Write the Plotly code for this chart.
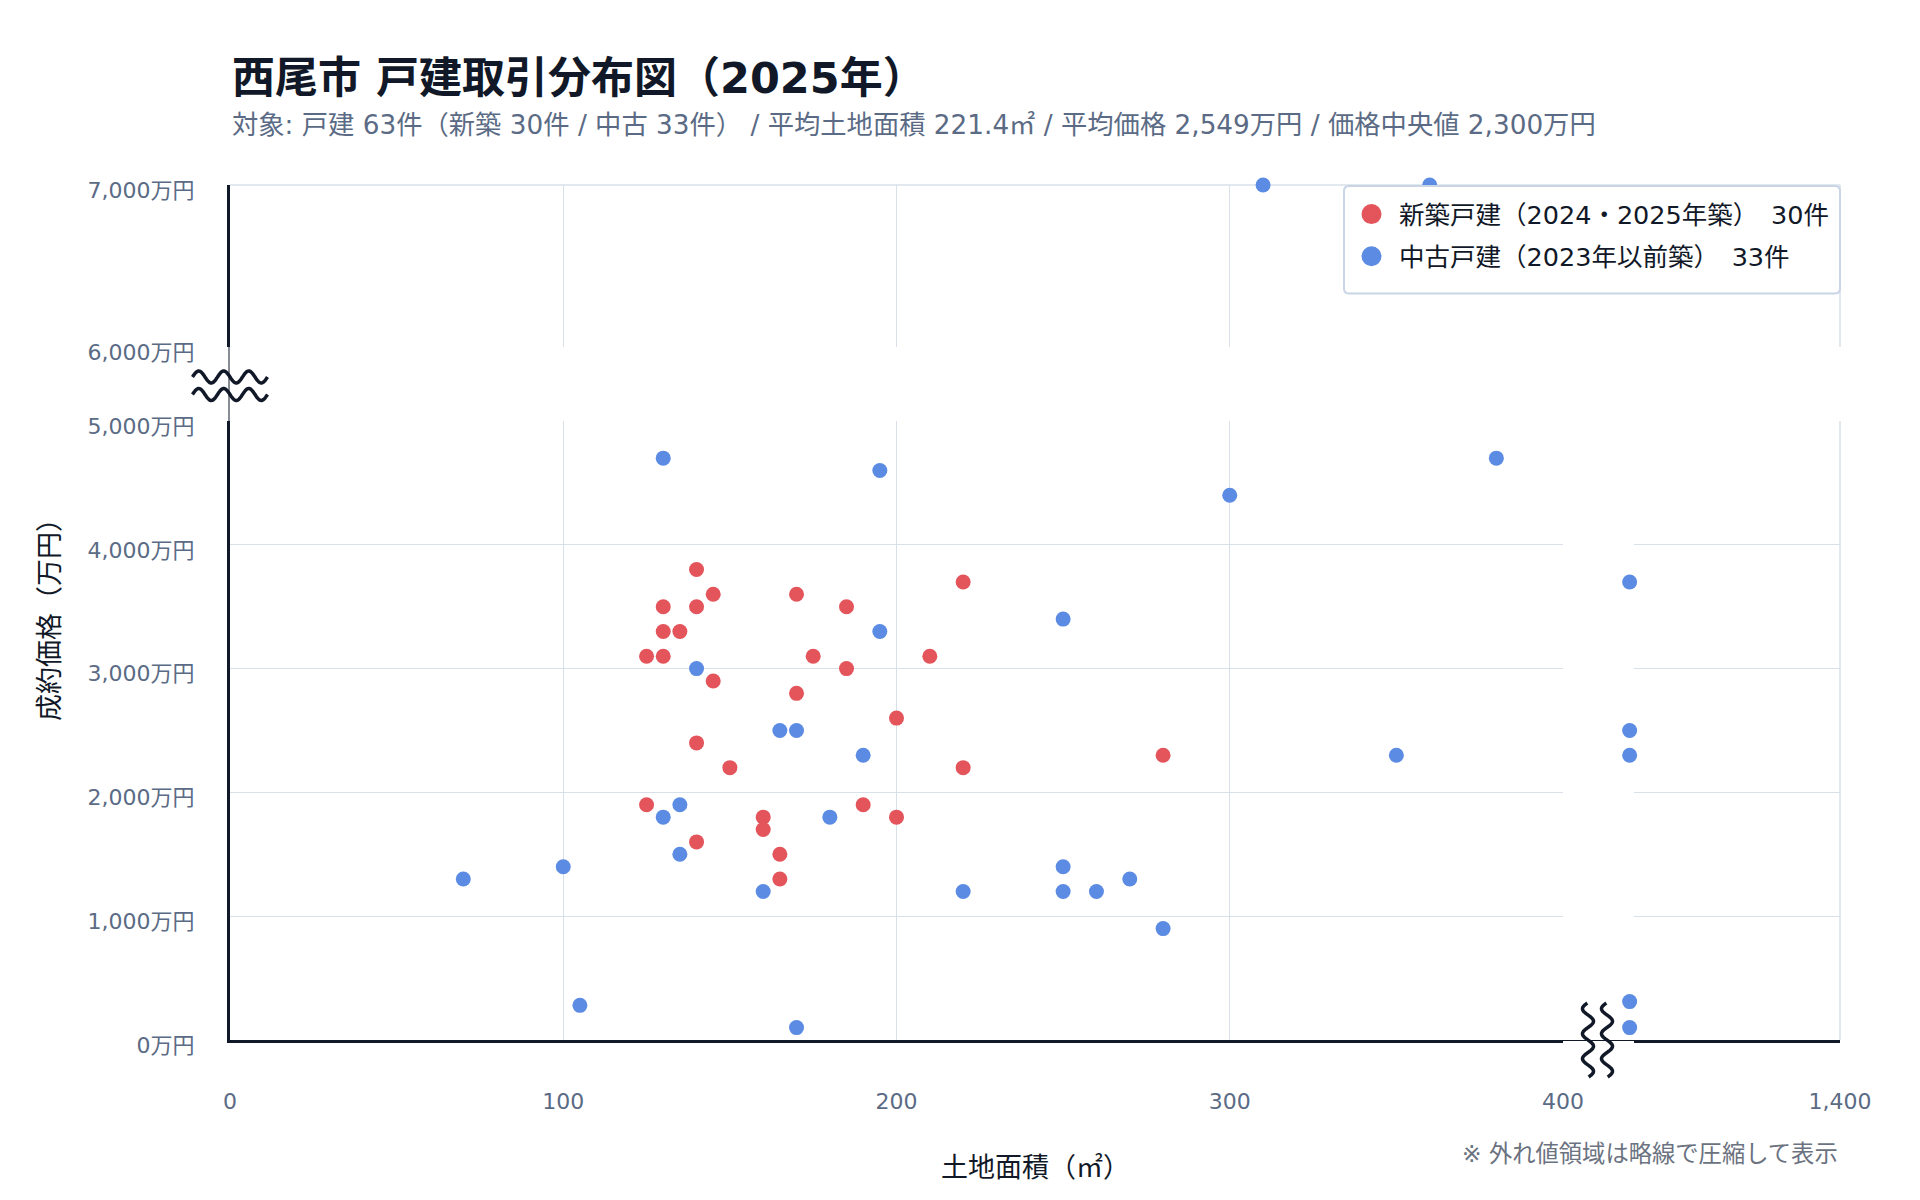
import numpy as np
import plotly.graph_objects as go

# ---------------- data ----------------
new_x = [140, 145, 130, 140, 170, 185, 220, 130, 135, 125, 130, 175, 210, 185, 145,
         170, 200, 140, 150, 220, 125, 190, 160, 200, 160, 140, 165, 165, 280]
new_y = [3800, 3600, 3500, 3500, 3600, 3500, 3700, 3300, 3300, 3100, 3100, 3100, 3100, 3000, 2900,
         2800, 2600, 2400, 2200, 2200, 1900, 1900, 1800, 1800, 1700, 1600, 1500, 1300, 2300]

used_x = [310, 360, 130, 195, 380, 300, 250, 195, 140, 165, 170, 190, 350, 135, 130, 180, 135,
          70, 100, 160, 220, 250, 250, 260, 270, 280, 105, 170, 420, 420, 420, 420, 420]
used_y = [7000, 7000, 4700, 4600, 4700, 4400, 3400, 3300, 3000, 2500, 2500, 2300, 2300, 1900, 1800,
          1800, 1500, 1300, 1400, 1200, 1200, 1400, 1200, 1200, 1300, 900, 280, 100, 3700, 2500,
          2300, 310, 100]

series_names = ["新築戸建（2024・2025年築）\u300030件", "中古戸建（2023年以前築）\u300033件"]
series_colors = ["#E3545B", "#5B8BE2"]

x_ticks_main = [0, 100, 200, 300, 400]
x_ticks_far = [1400]
y_ticks_low = [0, 1000, 2000, 3000, 4000, 5000]
y_ticks_high = [6000, 7000]

title_text = "西尾市 戸建取引分布図（2025年）"
subtitle_text = ("対象: 戸建 63件（新築 30件 / 中古 33件） / 平均土地面積 221.4㎡ / "
                 "平均価格 2,549万円 / 価格中央値 2,300万円")
x_title = "土地面積（㎡）"
y_title = "成約価格（万円）"
note_text = "※ 外れ値領域は略線で圧縮して表示"

# ---------------- layout constants ----------------
W, H = 1920, 1200
FONT = "DejaVu Sans, Noto Sans CJK JP, sans-serif"
DARK = "#111827"
TICK = "#5B6B85"
GRID = "#D8E0EA"
LEG_BORDER = "#C9D5E5"
Y_SPLIT = 5500
X_SPLIT = 400


def px(x):
    return x / W


def py(y):
    return 1 - y / H


L0, L1, R0, R1 = 230, 1563, 1634, 1840
XL = [px(L0), px(L1)]
XR = [px(R0), px(R1)]
YB = [py(1040), py(421)]
YT = [py(347), py(185)]
X_MAIN = [0, 400]
# outlier strip continues the main scale just beyond the break
OUT_END = 1700
X_OUT = [X_MAIN[1], X_MAIN[1] + (OUT_END - L1) * (X_MAIN[1] - X_MAIN[0]) / (L1 - L0)]

fig = go.Figure()

# legend entries
for name, color in zip(series_names, series_colors):
    fig.add_trace(go.Scatter(x=[None], y=[None], mode="markers", name=name, legendgroup=name,
                             marker=dict(size=16, color=color, line=dict(width=4, color=color)),
                             xaxis="x", yaxis="y", hoverinfo="skip"))

for xs, ys, name, color in [(new_x, new_y, series_names[0], series_colors[0]),
                            (used_x, used_y, series_names[1], series_colors[1])]:
    xs = np.array(xs)
    ys = np.array(ys)
    low = (ys < Y_SPLIT) & (xs <= X_SPLIT)
    high = ys >= Y_SPLIT
    far = (xs > X_SPLIT) & (ys < Y_SPLIT)
    mk = dict(size=15, color=color)
    fig.add_trace(go.Scatter(x=xs[low], y=ys[low], mode="markers", name=name,
                             legendgroup=name, showlegend=False, cliponaxis=False, marker=mk,
                             xaxis="x", yaxis="y"))
    if high.any():
        fig.add_trace(go.Scatter(x=xs[high], y=ys[high], mode="markers", name=name,
                                 legendgroup=name, showlegend=False, cliponaxis=False,
                                 marker=mk, xaxis="x3", yaxis="y3"))
    if far.any():
        fig.add_trace(go.Scatter(x=xs[far], y=ys[far], mode="markers", name=name,
                                 legendgroup=name, showlegend=False, cliponaxis=False,
                                 marker=mk, xaxis="x5", yaxis="y5"))

# empty traces so the right-hand panels are drawn
fig.add_trace(go.Scatter(x=[], y=[], xaxis="x2", yaxis="y2", showlegend=False))
fig.add_trace(go.Scatter(x=[], y=[], xaxis="x4", yaxis="y4", showlegend=False))

tickfont = dict(family=FONT, size=22, color=TICK)
common = dict(showgrid=True, gridcolor=GRID, gridwidth=1, zeroline=False, ticks="",
              tickfont=tickfont, automargin=False, fixedrange=True)


def yen(vals):
    return [f"{v:,}万円" for v in vals]


fig.update_layout(
    width=W, height=H, template="none",
    margin=dict(l=0, r=0, t=0, b=0),
    paper_bgcolor="white", plot_bgcolor="rgba(0,0,0,0)",
    font=dict(family=FONT, color=DARK),
    showlegend=True,
    xaxis=dict(domain=XL, anchor="y", range=X_MAIN, tickvals=x_ticks_main,
               showline=True, linewidth=3, linecolor=DARK, ticklabelstandoff=40, **common),
    xaxis2=dict(domain=XR, anchor="y2", range=[1000, 1400], tickvals=x_ticks_far,
                ticktext=[f"{v:,}" for v in x_ticks_far],
                showline=True, linewidth=3, linecolor=DARK, ticklabelstandoff=40, **common),
    xaxis3=dict(domain=XL, anchor="y3", range=X_MAIN, tickvals=x_ticks_main,
                showticklabels=False, showline=False, **common),
    xaxis4=dict(domain=XR, anchor="y4", range=[1000, 1400], tickvals=x_ticks_far,
                showticklabels=False, showline=False, **common),
    xaxis5=dict(domain=[px(L1), px(OUT_END)], anchor="y5", range=X_OUT, visible=False,
                fixedrange=True),
    yaxis=dict(domain=YB, anchor="x", range=[0, 5000], tickvals=y_ticks_low,
               ticktext=yen(y_ticks_low), showline=True, linewidth=3, linecolor=DARK,
               ticklabelstandoff=28, ticklabelshift=5, **common),
    yaxis2=dict(domain=YB, anchor="x2", range=[0, 5000], tickvals=y_ticks_low,
                showticklabels=False, showline=False, **common),
    yaxis3=dict(domain=YT, anchor="x3", range=[6000, 7000], tickvals=y_ticks_high,
                ticktext=yen(y_ticks_high), showline=True, linewidth=3, linecolor=DARK,
                ticklabelstandoff=28, ticklabelshift=5, **common),
    yaxis4=dict(domain=YT, anchor="x4", range=[6000, 7000], tickvals=y_ticks_high,
                showticklabels=False, showline=False, **common),
    yaxis5=dict(domain=YB, anchor="x5", range=[0, 5000], visible=False, fixedrange=True),
    legend=dict(x=px(1344), y=py(191), xanchor="left", yanchor="top",
                bgcolor="rgba(0,0,0,0)", borderwidth=0, itemwidth=45, tracegroupgap=6,
                font=dict(family=FONT, size=25.5, color=DARK)),
)

annotations = [
    dict(text=f"<b>{title_text}</b>", x=px(230), y=py(78), xanchor="left", yanchor="middle",
         font=dict(family=FONT, size=43, color=DARK)),
    dict(text=subtitle_text, x=px(230), y=py(125), xanchor="left", yanchor="middle",
         font=dict(family=FONT, size=26.3, color=TICK)),
    dict(text=x_title, x=px(1035), y=py(1167), xanchor="center", yanchor="middle",
         font=dict(family=FONT, size=27, color=DARK)),
    dict(text=y_title, x=px(49), y=py(613), xanchor="center", yanchor="middle",
         textangle=-90, font=dict(family=FONT, size=27, color=DARK)),
    dict(text=note_text, x=px(1840), y=py(1153), xanchor="right", yanchor="middle",
         font=dict(family=FONT, size=23.3, color="#6B7280")),
]
for a in annotations:
    a.update(xref="paper", yref="paper", showarrow=False)
fig.update_layout(annotations=annotations)


# ---------------- decorations (break marks, legend frame) ----------------
def wave_path(c_along, c_across, length, amp, period, horizontal):
    t = np.linspace(-length / 2, length / 2, 120)
    off = amp * np.sin(2 * np.pi * t / period)
    pts = []
    for ti, oi in zip(t, off):
        if horizontal:
            pts.append((px(c_along + ti), py(c_across + oi)))
        else:
            pts.append((px(c_across + oi), py(c_along + ti)))
    return "M " + " L ".join(f"{a:.5f},{b:.5f}" for a, b in pts)


def rounded_rect(x0, y0, x1, y1, r):
    P = lambda x, y: f"{px(x):.5f},{py(y):.5f}"
    return (f"M {P(x0 + r, y0)} L {P(x1 - r, y0)} Q {P(x1, y0)} {P(x1, y0 + r)} "
            f"L {P(x1, y1 - r)} Q {P(x1, y1)} {P(x1 - r, y1)} "
            f"L {P(x0 + r, y1)} Q {P(x0, y1)} {P(x0, y1 - r)} "
            f"L {P(x0, y0 + r)} Q {P(x0, y0)} {P(x0 + r, y0)} Z")


shapes = [
    # right-edge and top-edge grid lines
    dict(type="line", x0=px(R1), x1=px(R1), y0=py(1040), y1=py(421),
         line=dict(color=GRID, width=1.5), layer="below"),
    dict(type="line", x0=px(R1), x1=px(R1), y0=py(347), y1=py(185),
         line=dict(color=GRID, width=1.5), layer="below"),
    dict(type="line", x0=px(L0), x1=px(R1), y0=py(185), y1=py(185),
         line=dict(color=GRID, width=1.5), layer="below"),
    # thin axis lines through the gaps
    dict(type="line", x0=px(229), x1=px(229), y0=py(347), y1=py(421),
         line=dict(color=DARK, width=1), layer="above"),
    dict(type="line", x0=px(L1), x1=px(R0), y0=py(1040.5), y1=py(1040.5),
         line=dict(color=DARK, width=1), layer="above"),
    # legend frame
    dict(type="path", path=rounded_rect(1344, 186, 1840, 293.5, 5), fillcolor="white",
         line=dict(color=LEG_BORDER, width=2), layer="above"),
]
for yc in (377, 394.5):
    shapes.append(dict(type="path", path=wave_path(230, yc, 75, 6, 25, True),
                       line=dict(color=DARK, width=3.5), layer="above"))
for xc in (1588, 1607):
    shapes.append(dict(type="path", path=wave_path(1040, xc, 74, 5.5, 25, False),
                       line=dict(color=DARK, width=3.5), layer="above"))
for s in shapes:
    s.update(xref="paper", yref="paper")
fig.update_layout(shapes=shapes)

fig.write_html("out.html")
